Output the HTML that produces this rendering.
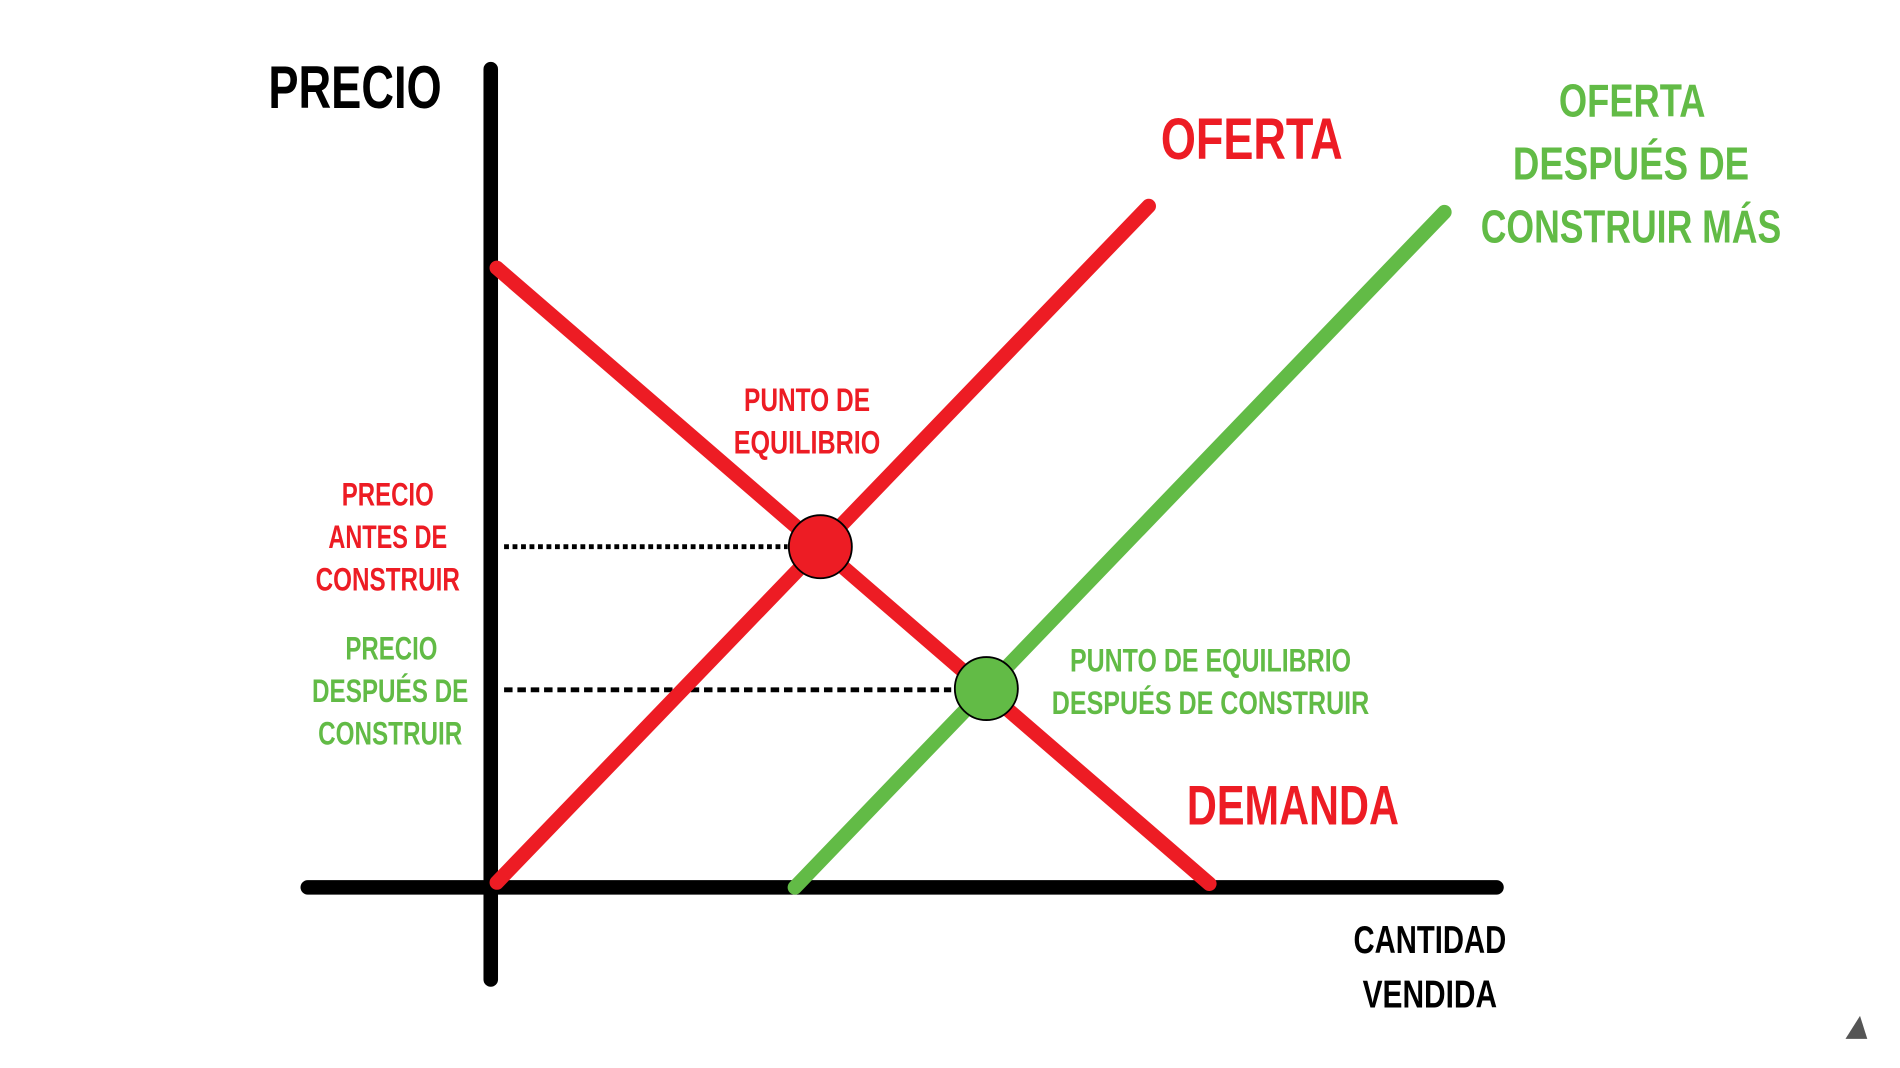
<!DOCTYPE html>
<html><head><meta charset="utf-8"><style>
html,body{margin:0;padding:0;background:#fff;width:1900px;height:1068px;overflow:hidden}
svg{display:block}
text{font-family:"Liberation Sans",sans-serif;font-weight:bold;text-anchor:middle}
.r{fill:#ed1c24}.g{fill:#62bb46}.k{fill:#000}
</style></head><body>
<svg width="1900" height="1068" viewBox="0 0 1568 881" preserveAspectRatio="none">
<g stroke-linecap="round" fill="none">
<line x1="405" y1="57" x2="405" y2="808" stroke="#000" stroke-width="12"/>
<line x1="254" y1="732" x2="1235" y2="732" stroke="#000" stroke-width="12"/>
<line x1="416" y1="451" x2="650" y2="451" stroke="#000" stroke-width="4" stroke-dasharray="4,3" stroke-linecap="butt"/>
<line x1="416" y1="569" x2="785" y2="569" stroke="#000" stroke-width="4" stroke-dasharray="7,4" stroke-linecap="butt"/>
<line x1="410" y1="221" x2="998" y2="729" stroke="#ed1c24" stroke-width="12"/>
<line x1="410" y1="728" x2="948" y2="170" stroke="#ed1c24" stroke-width="12"/>
<line x1="656" y1="732" x2="1192" y2="175" stroke="#62bb46" stroke-width="12"/>
</g>
<circle cx="677" cy="451" r="26" fill="#ed1c24" stroke="#000" stroke-width="1.5"/>
<circle cx="814" cy="568" r="26" fill="#62bb46" stroke="#000" stroke-width="1.5"/>
<text class="k" x="293" y="89" font-size="50" textLength="143" lengthAdjust="spacingAndGlyphs">PRECIO</text>
<text class="r" x="1033" y="131" font-size="48" textLength="150" lengthAdjust="spacingAndGlyphs">OFERTA</text>
<text class="g" x="1347" y="96" font-size="38" textLength="121" lengthAdjust="spacingAndGlyphs">OFERTA</text>
<text class="g" x="1346" y="148" font-size="38" textLength="195" lengthAdjust="spacingAndGlyphs">DESPUÉS DE</text>
<text class="g" x="1346" y="200" font-size="38" textLength="248" lengthAdjust="spacingAndGlyphs">CONSTRUIR MÁS</text>
<text class="r" x="666" y="339" font-size="27" textLength="104" lengthAdjust="spacingAndGlyphs">PUNTO DE</text>
<text class="r" x="666" y="374" font-size="27" textLength="121" lengthAdjust="spacingAndGlyphs">EQUILIBRIO</text>
<text class="r" x="320" y="417" font-size="27" textLength="76" lengthAdjust="spacingAndGlyphs">PRECIO</text>
<text class="r" x="320" y="452" font-size="27" textLength="98" lengthAdjust="spacingAndGlyphs">ANTES DE</text>
<text class="r" x="320" y="487" font-size="27" textLength="119" lengthAdjust="spacingAndGlyphs">CONSTRUIR</text>
<text class="g" x="323" y="544" font-size="27" textLength="76" lengthAdjust="spacingAndGlyphs">PRECIO</text>
<text class="g" x="322" y="579" font-size="27" textLength="129" lengthAdjust="spacingAndGlyphs">DESPUÉS DE</text>
<text class="g" x="322" y="614" font-size="27" textLength="119" lengthAdjust="spacingAndGlyphs">CONSTRUIR</text>
<text class="g" x="999" y="554" font-size="27" textLength="232" lengthAdjust="spacingAndGlyphs">PUNTO DE EQUILIBRIO</text>
<text class="g" x="999" y="589" font-size="27" textLength="262" lengthAdjust="spacingAndGlyphs">DESPUÉS DE CONSTRUIR</text>
<text class="r" x="1067" y="680" font-size="46" textLength="175" lengthAdjust="spacingAndGlyphs">DEMANDA</text>
<text class="k" x="1180" y="786" font-size="32" textLength="126" lengthAdjust="spacingAndGlyphs">CANTIDAD</text>
<text class="k" x="1180" y="831" font-size="32" textLength="111" lengthAdjust="spacingAndGlyphs">VENDIDA</text>
<path d="M1523 857 L1535 838 L1541 857 Z" fill="#555"/>
</svg>
</body></html>
